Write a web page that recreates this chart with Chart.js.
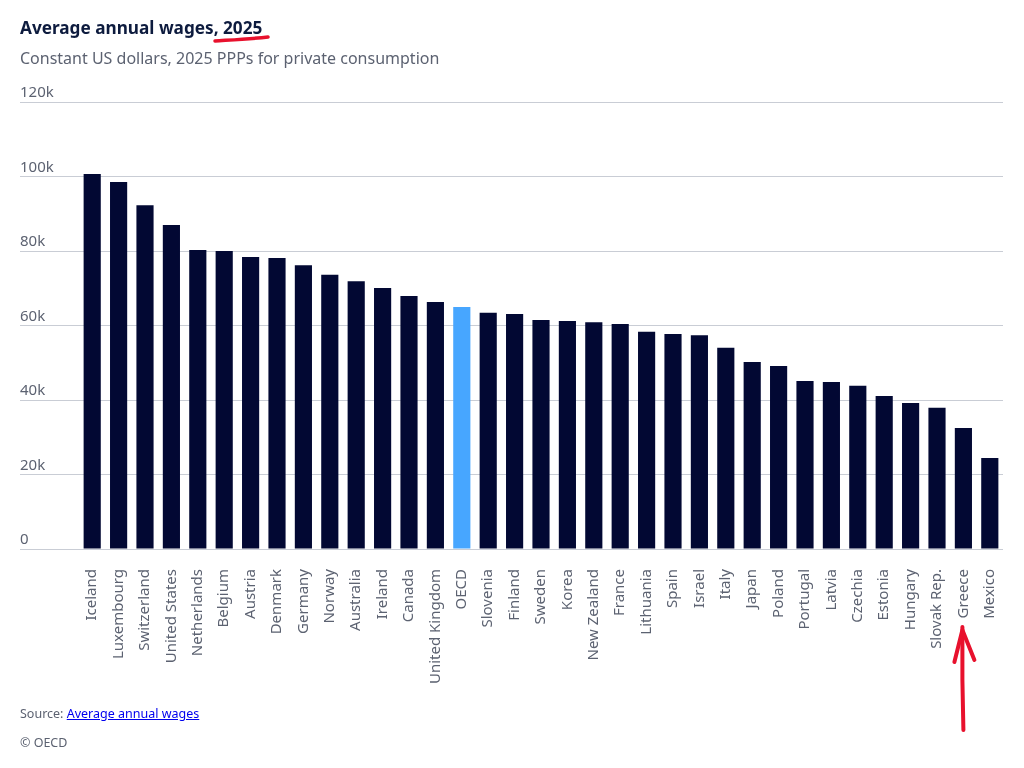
<!DOCTYPE html>
<html>
<head>
<meta charset="utf-8">
<script src="https://cdn.jsdelivr.net/npm/chart.js@4.4.1/dist/chart.umd.min.js"></script>
<style>
  body { margin: 0; background: #fff; font-family: "Noto Sans", sans-serif; }
  #wrap { position: relative; width: 1024px; height: 768px; }
  #chart { position: absolute; left: 0; top: 0; }
  .title { position: absolute; left: 20px; top: 16px; font-size: 17.2px; font-weight: bold; color: #0d1b3e; }
  .subtitle { position: absolute; left: 20px; top: 47px; font-size: 16px; color: #5c6271; }
  .source { position: absolute; left: 20px; top: 705px; font-size: 12.5px; color: #5c6271; }
  .source a { color: #0000ee; }
  .copy { position: absolute; left: 20px; top: 734px; font-size: 12.5px; color: #5c6271; }
  svg.marks { position: absolute; left: 0; top: 0; pointer-events: none; }
</style>
</head>
<body>
<div id="wrap">
  <canvas id="chart" width="1024" height="768"></canvas>
  <div class="title">Average annual wages, 2025</div>
  <div class="subtitle">Constant US dollars, 2025 PPPs for private consumption</div>
  <div class="source">Source: <a href="#">Average annual wages</a></div>
  <div class="copy">© OECD</div>
  <svg class="marks" width="1024" height="768">
    <path d="M215 41 C 230 40, 250 39, 268 37" stroke="#e8112d" stroke-width="3.5" fill="none" stroke-linecap="round"/>
  </svg>
</div>
<script>
var paises = ["Iceland", "Luxembourg", "Switzerland", "United States", "Netherlands", "Belgium",
  "Austria", "Denmark", "Germany", "Norway", "Australia", "Ireland", "Canada", "United Kingdom",
  "OECD", "Slovenia", "Finland", "Sweden", "Korea", "New Zealand", "France", "Lithuania", "Spain",
  "Israel", "Italy", "Japan", "Poland", "Portugal", "Latvia", "Czechia", "Estonia", "Hungary",
  "Slovak Rep.", "Greece", "Mexico"]

var salarios = [100700, 98500, 92300, 87000, 80300, 80000,
  78400, 78100, 76200, 73600, 71900, 70100, 67900, 66300,
  65000, 63400, 63100, 61500, 61200, 60900, 60400, 58300, 57700,
  57400, 54000, 50200, 49100, 45100, 44800, 43800, 41100, 39200,
  37900, 32500, 24400]

var yTicks = [0, 20000, 40000, 60000, 80000, 100000, 120000]
var yLabels = ["0", "20k", "40k", "60k", "80k", "100k", "120k"]

var destaque = "OECD"
var apontado = "Greece"

var cores = paises.map(function (p) {
  return p == destaque ? "#47a6ff" : "#020833"
})

// seta vermelha desenhada sob o rotulo indicado
var setaPlugin = {
  id: "seta",
  afterDraw: function (chart) {
    var ctx = chart.ctx
    var x = chart.scales.x.getPixelForValue(paises.indexOf(apontado)) - 1
    ctx.save()
    ctx.strokeStyle = "#e8112d"
    ctx.lineWidth = 4
    ctx.lineCap = "round"
    ctx.lineJoin = "round"
    ctx.beginPath()
    ctx.moveTo(x + 1, 730)
    ctx.lineTo(x, 680)
    ctx.lineTo(x, 627)
    ctx.stroke()
    ctx.beginPath()
    ctx.moveTo(x - 8, 662)
    ctx.lineTo(x, 630)
    ctx.lineTo(x + 12, 660)
    ctx.stroke()
    ctx.restore()
  }
}

var ctx = document.getElementById("chart")

new Chart(ctx, {
  type: "bar",
  data: {
    labels: paises,
    datasets: [{
      data: salarios,
      backgroundColor: cores,
      barPercentage: 0.65,
      categoryPercentage: 1
    }]
  },
  plugins: [setaPlugin],
  options: {
    responsive: false,
    animation: false,
    layout: { padding: { left: 20, right: 21, top: 102, bottom: 19 } },
    plugins: {
      legend: { display: false },
      tooltip: { enabled: false }
    },
    scales: {
      x: {
        grid: { display: false },
        border: { display: false },
        afterFit: function (scale) { scale.height = 200 },
        ticks: {
          autoSkip: false,
          maxRotation: 90,
          minRotation: 90,
          padding: 12,
          color: "#5c6271",
          font: { family: "Noto Sans", size: 15 }
        }
      },
      y: {
        min: 0,
        max: 120000,
        afterFit: function (scale) { scale.width = 59 },
        afterBuildTicks: function (scale) {
          scale.ticks = yTicks.map(function (v) { return { value: v } })
        },
        border: { display: false },
        grid: {
          color: "#c9cdd5",
          lineWidth: 1,
          drawTicks: true,
          tickLength: 59,
          tickColor: "#c9cdd5"
        },
        ticks: {
          crossAlign: "far",
          labelOffset: -9,
          padding: 0,
          color: "#5c6271",
          font: { family: "Noto Sans", size: 15 },
          callback: function (v) {
            return yLabels[yTicks.indexOf(v)]
          }
        }
      }
    }
  }
})
</script>
</body>
</html>
